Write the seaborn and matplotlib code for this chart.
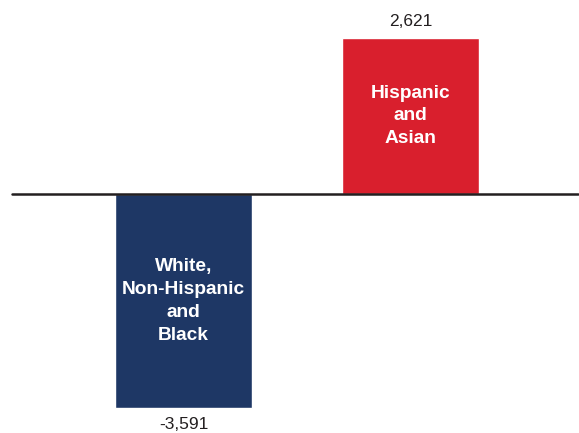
import matplotlib
matplotlib.use("Agg")
import matplotlib.pyplot as plt
import seaborn as sns
import pandas as pd

categories = ["White,\nNon-Hispanic\nand\nBlack", "Hispanic\nand\nAsian"]
values = [-3591, 2621]
value_labels = ["-3,591", "2,621"]
colors = ["#1e3765", "#d91f2d"]

sns.set_style("white")
plt.rcParams['font.family'] = ['Liberation Sans', 'DejaVu Sans']

df = pd.DataFrame({"cat": categories, "val": values})

fig = plt.figure(figsize=(5.79, 4.33), dpi=100)
ax = fig.add_axes([0, 0, 1, 1])
sns.barplot(data=df, x="cat", y="val", hue="cat", palette=colors, width=0.6,
            saturation=1, legend=False, ax=ax)

ax.set_xlim(-0.808, 1.742)
ax.set_ylim(-4010, 3255)
ax.axhline(0, xmin=12/579, xmax=578/579, color="#231f20", lw=1.8, zorder=5)

for i, (v, lab, cat) in enumerate(zip(values, value_labels, categories)):
    ax.text(i, v / 2, cat, ha="center", va="center", color="white",
            fontsize=13.8, fontweight="bold", linespacing=1.45)
    if v > 0:
        ax.text(i, v + 150, lab, ha="center", va="bottom", color="#231f20", fontsize=12.5)
    else:
        ax.text(i, v - 150, lab, ha="center", va="top", color="#231f20", fontsize=12.5)

ax.set_axis_off()
fig.savefig("out.png", dpi=100)
